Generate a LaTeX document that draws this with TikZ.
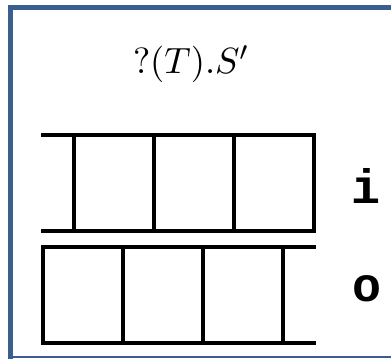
\documentclass[tikz,border=0pt]{standalone}
\usepackage{fontspec}
\newfontfamily\monob{Liberation Mono}
\definecolor{frameblue}{HTML}{3A5F8F}
\begin{document}
\begin{tikzpicture}[x=0.3pt,y=-0.3pt,
  ladder/.style={line width=1.35pt,line cap=rect},
  chan/.style={font=\monob\bfseries\fontsize{14.5}{16}\selectfont,inner sep=0pt}]
\useasboundingbox (0,0) rectangle (391,358);
% frame
\fill[white] (0,0) rectangle (391,358);
\draw[frameblue,line width=1.5pt] (10.5,400) -- (10.5,7.5) -- (400,7.5);
\draw[frameblue,line width=0.5pt] (10.5,357) -- (400,357);
% title
\node[font=\fontsize{11}{13}\selectfont,inner sep=0pt] (title) at (191,64) {$?(T).S'$};
% input ladder
\draw[ladder] (43,135) -- (314,135);
\draw[ladder] (43,231) -- (314,231);
\foreach \x in {74,154,234,314} \draw[ladder] (\x,135) -- (\x,231);
% output ladder
\draw[ladder] (43,247) -- (314,247);
\draw[ladder] (43,343) -- (314,343);
\foreach \x in {43,123,203,283} \draw[ladder] (\x,247) -- (\x,343);
% labels
\node[chan] (i) at (366,186) {i};
\node[chan] (o) at (367,289) {o};
\end{tikzpicture}
\end{document}
